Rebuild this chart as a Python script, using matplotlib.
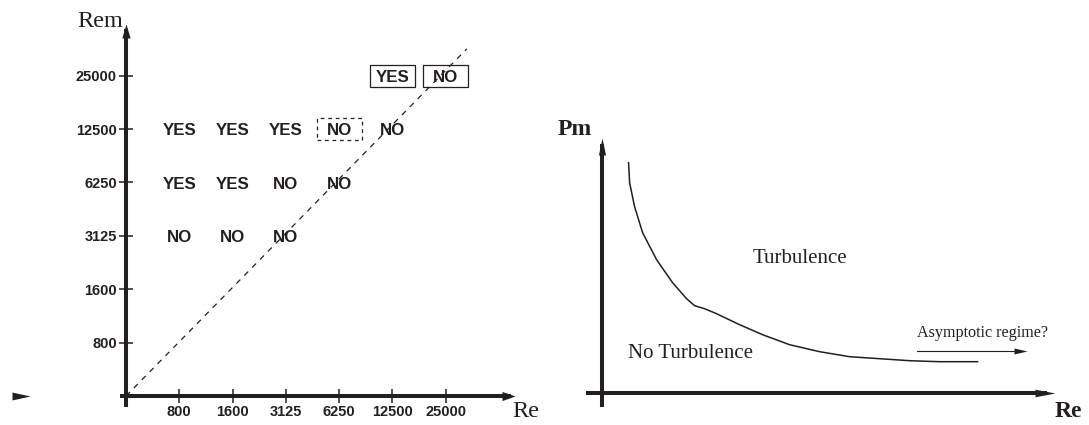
import numpy as np
import matplotlib
matplotlib.use("Agg")
import matplotlib.pyplot as plt
from matplotlib.patches import Rectangle

# ---------------- data ----------------
re_values = ['800', '1600', '3125', '6250', '12500', '25000']
rem_values = ['800', '1600', '3125', '6250', '12500', '25000']
# dynamo outcome for each Rem row, columns follow re_values ('' = no run)
outcome_rem_3125 = ['NO', 'NO', 'NO', '', '', '']
outcome_rem_6250 = ['YES', 'YES', 'NO', 'NO', '', '']
outcome_rem_12500 = ['YES', 'YES', 'YES', 'NO', 'NO', '']
outcome_rem_25000 = ['', '', '', '', 'YES', 'NO']
boxed_runs = [('12500', '25000'), ('25000', '25000')]   # (Re, Rem)
dashed_runs = [('6250', '12500')]                       # (Re, Rem)
# Pm = 1 line in index space
threshold_re_idx = [0.0, 6.4]
threshold_rem_idx = [0.0, 6.5]

# schematic critical curve (arbitrary units)
curve_re = [2.7, 2.8, 3.3, 4.1, 5.5, 7.1, 8.5, 9.3, 10.3, 11.5, 13.8, 16.1,
            18.8, 21.8, 24.8, 27.8, 30.8, 33.8, 37.6]
curve_pm = [23.0, 21.0, 18.6, 16.0, 13.3, 11.0, 9.4, 8.7, 8.4, 7.9, 6.8, 5.8,
            4.8, 4.1, 3.6, 3.4, 3.2, 3.1, 3.1]

# ---------------- style ----------------
plt.rcParams['font.family'] = ['Liberation Sans', 'DejaVu Sans']
INK = '#231f20'
SERIF = ['Liberation Serif', 'DejaVu Serif']
W, H = 1089, 425

fig = plt.figure(figsize=(W / 100, H / 100), dpi=100)


def tri_marker(direction, r):
    if direction == 'right':
        return [(0, 0), (-1, r), (-1, -r), (0, 0)]
    return [(0, 0), (r, -1), (-r, -1), (0, 0)]


def px2pt(p):
    return p * 72 / 100


# ================= left panel =================
OX, OY, UX, UY = 126.0, 396.0, 53.25, 53.4
axL = fig.add_axes([0, 0, 545 / W, 1])
axL.set_xlim(-OX / UX, (545 - OX) / UX)
axL.set_ylim((OY - H) / UY, OY / UY)
axL.patch.set_alpha(0)

for s in ['top', 'right']:
    axL.spines[s].set_visible(False)
xtip = (515 - OX) / UX
ytip = (OY - 24) / UY
axL.spines['left'].set_position(('data', 0))
axL.spines['bottom'].set_position(('data', 0))
axL.spines['bottom'].set_bounds((122 - OX) / UX, xtip - 6 / UX)
axL.spines['left'].set_bounds((OY - 405) / UY, ytip - 7 / UY)
for s in ['left', 'bottom']:
    axL.spines[s].set_linewidth(2.9)
    axL.spines[s].set_color(INK)

xpos = np.arange(1, len(re_values) + 1)
ypos = np.arange(1, len(rem_values) + 1)
axL.set_xticks(xpos)
axL.set_xticklabels(re_values, fontweight='bold', fontsize=10.5, color=INK)
axL.set_yticks(ypos)
axL.set_yticklabels(rem_values, fontweight='bold', fontsize=10.5, color=INK)
axL.tick_params(axis='both', direction='inout', length=10, width=1.1, color=INK)
axL.tick_params(axis='x', pad=1.5)
axL.tick_params(axis='y', pad=1.5)

# arrow heads
axL.plot([xtip], [0], marker=tri_marker('right', 0.35), ms=2 * px2pt(13),
         mew=0, color=INK, clip_on=False, ls='none')
axL.plot([0], [ytip], marker=tri_marker('up', 0.3), ms=2 * px2pt(14),
         mew=0, color=INK, clip_on=False, ls='none')
# stray arrow head at far left
axL.plot([(30 - OX) / UX], [0], marker=tri_marker('right', 0.22),
         ms=2 * px2pt(18), mew=0, color=INK, clip_on=False, ls='none')

# axis titles
axL.text((123 - OX) / UX, (OY - 27) / UY, 'Rem', family=SERIF, fontsize=17.5,
         ha='right', va='baseline', color=INK)
axL.text((512 - OX) / UX, (OY - 417) / UY, 'Re', family=SERIF, fontsize=17.5,
         ha='left', va='baseline', color=INK)

# threshold line
axL.plot(threshold_re_idx, threshold_rem_idx, color=INK, lw=0.9,
         ls=(0, (4.5, 4.5)))

# outcomes
rows = {'3125': outcome_rem_3125, '6250': outcome_rem_6250,
        '12500': outcome_rem_12500, '25000': outcome_rem_25000}
for rem, outs in rows.items():
    j = rem_values.index(rem) + 1
    for i, txt in enumerate(outs):
        if txt:
            axL.annotate(txt, (i + 1, j), xytext=(0, -4.4),
                         textcoords='offset points', ha='center',
                         va='baseline', fontsize=12.2, fontweight='bold',
                         color=INK)

bw, bh = 45 / UX, 22 / UY
for re_, rem in boxed_runs:
    i = re_values.index(re_) + 1
    j = rem_values.index(rem) + 1
    axL.add_patch(Rectangle((i - bw / 2, j - bh / 2), bw, bh, fill=False,
                            ec=INK, lw=0.9))
for re_, rem in dashed_runs:
    i = re_values.index(re_) + 1
    j = rem_values.index(rem) + 1
    axL.add_patch(Rectangle((i - bw / 2, j - bh / 2), bw, bh, fill=False,
                            ec=INK, lw=0.9, ls=(0, (3, 3))))

# ================= right panel =================
RX, RY, RU = 601.6, 392.7, 10.0
axR = fig.add_axes([545 / W, 0, (W - 545) / W, 1])
axR.set_xlim((545 - RX) / RU, (W - RX) / RU)
axR.set_ylim((RY - H) / RU, RY / RU)
axR.patch.set_alpha(0)
for s in ['top', 'right']:
    axR.spines[s].set_visible(False)
rxtip = (1055 - RX) / RU
rytip = (RY - 138) / RU
axR.spines['left'].set_position(('data', 0))
axR.spines['bottom'].set_position(('data', 0))
axR.spines['bottom'].set_bounds((587.5 - RX) / RU, rxtip - 10 / RU)
axR.spines['left'].set_bounds((RY - 405) / RU, rytip - 8 / RU)
for s in ['left', 'bottom']:
    axR.spines[s].set_linewidth(2.9)
    axR.spines[s].set_color(INK)
axR.set_xticks([])
axR.set_yticks([])

axR.plot([rxtip], [0], marker=tri_marker('right', 0.19), ms=2 * px2pt(20),
         mew=0, color=INK, clip_on=False, ls='none')
axR.plot([0], [rytip], marker=tri_marker('up', 0.21), ms=2 * px2pt(17),
         mew=0, color=INK, clip_on=False, ls='none')

axR.text((592 - RX) / RU, (RY - 135) / RU, 'Pm', family=SERIF, fontsize=17,
         fontweight='bold', ha='right', va='baseline', color=INK)
axR.text((1055 - RX) / RU, (RY - 417) / RU, 'Re', family=SERIF, fontsize=17,
         fontweight='bold', ha='left', va='baseline', color=INK)

axR.plot(curve_re, curve_pm, color=INK, lw=1.1, solid_joinstyle='round')

axR.text((799.5 - RX) / RU, (RY - 263) / RU, 'Turbulence', family=SERIF,
         fontsize=15, ha='center', va='baseline', color=INK)
axR.text((691 - RX) / RU, (RY - 358) / RU, 'No Turbulence', family=SERIF,
         fontsize=15, ha='center', va='baseline', color=INK)
axR.text((982.5 - RX) / RU, (RY - 337) / RU, 'Asymptotic regime?',
         family=SERIF, fontsize=11.6, ha='center', va='baseline', color=INK)
ay = (RY - 351) / RU
axR.plot([(917 - RX) / RU, (1020 - RX) / RU], [ay, ay], color=INK, lw=0.8)
axR.plot([(1027 - RX) / RU], [ay], marker=tri_marker('right', 0.23),
         ms=2 * px2pt(13), mew=0, color=INK, clip_on=False, ls='none')

fig.savefig('out.png', dpi=100)
